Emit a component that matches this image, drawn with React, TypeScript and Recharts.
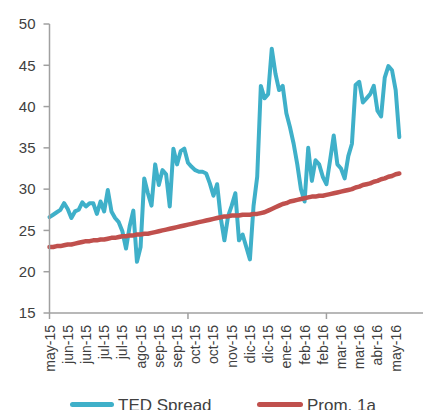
import React from 'react';
import { LineChart, Line, XAxis, YAxis, Legend } from 'recharts';

const TED_COLOR = '#3FB0C9';
const PROM_COLOR = '#C0504D';
const AXIS_COLOR = '#A0A0A0';
const TEXT_COLOR = '#404040';
const FONT = '"Liberation Sans", Arial, sans-serif';

// one label every 5 points
const monthLabels = [
  'may-15', 'jun-15', 'jun-15', 'jul-15', 'jul-15', 'ago-15', 'sep-15', 'sep-15', 'oct-15', 'oct-15',
  'nov-15', 'dic-15', 'dic-15', 'ene-16', 'feb-16', 'feb-16', 'mar-16', 'mar-16', 'abr-16', 'may-16',
];
const labelStep = 5;
const majorTicks = [0, 38, 76];
const yTicks = [15, 20, 25, 30, 35, 40, 45, 50];
const seriesNames = ['TED Spread', 'Prom. 1a'];

const tedSpread = [
  26.6, 26.9, 27.2, 27.5, 28.3, 27.6, 26.5, 27.3, 27.5, 28.4,
  27.9, 28.3, 28.3, 27.0, 28.5, 27.3, 29.9, 27.3, 26.5, 26.0,
  24.9, 22.8, 25.5, 27.4, 21.2, 23.0, 31.3, 29.5, 28.0, 33.0,
  30.5, 32.3, 31.8, 27.9, 34.9, 33.0, 34.6, 34.9, 33.2, 32.7,
  32.3, 32.1, 32.1, 31.9, 30.7, 29.2, 30.6, 26.5, 23.8, 26.7,
  28.0, 29.5, 23.8, 24.5, 23.0, 21.5, 28.0, 31.5, 42.5, 41.0,
  41.5, 47.0, 44.0, 42.0, 42.5, 39.2, 37.5, 35.5, 33.0, 30.0,
  28.5, 35.0, 31.0, 33.5, 33.0, 31.5, 30.6, 33.5, 36.5, 33.0,
  32.5, 31.3, 34.0, 35.5, 42.6, 43.0, 40.5, 41.0, 41.5, 42.5,
  39.5, 38.8, 43.5, 44.9, 44.4, 42.0, 36.3,
];

const prom1a = [
  23.0, 23.0, 23.1, 23.1, 23.2, 23.3, 23.3, 23.4, 23.5, 23.6,
  23.7, 23.7, 23.8, 23.8, 23.9, 23.9, 24.0, 24.1, 24.1, 24.2,
  24.3, 24.3, 24.4, 24.4, 24.5, 24.5, 24.6, 24.6, 24.7, 24.8,
  24.9, 25.0, 25.1, 25.2, 25.3, 25.4, 25.5, 25.6, 25.7, 25.8,
  25.9, 26.0, 26.1, 26.2, 26.3, 26.4, 26.5, 26.6, 26.7, 26.7,
  26.8, 26.8, 26.8, 26.9, 26.9, 26.9, 27.0, 27.0, 27.1, 27.2,
  27.4, 27.6, 27.8, 28.0, 28.2, 28.3, 28.5, 28.6, 28.7, 28.8,
  28.9, 29.0, 29.1, 29.1, 29.2, 29.2, 29.3, 29.4, 29.5, 29.6,
  29.7, 29.8, 29.9, 30.0, 30.2, 30.3, 30.5, 30.6, 30.7, 30.9,
  31.0, 31.2, 31.3, 31.5, 31.6, 31.8, 31.9,
];

const data = tedSpread.map((v, i) => ({ i, ted: v, prom: prom1a[i] }));
const xTicks = Array.from(new Set([...monthLabels.map((_, k) => k * labelStep), ...majorTicks])).sort((a, b) => a - b);

const DateTick = (props: any) => {
  const { x, y, payload } = props;
  const v = payload.value;
  const label = v % labelStep === 0 ? monthLabels[v / labelStep] : null;
  const ty = y + 12;
  return (
    <g>
      {majorTicks.includes(v) && <line x1={x} x2={x} y1={y} y2={y + 6} stroke={AXIS_COLOR} strokeWidth={1.5} />}
      {label && (
        <text x={x} y={ty} transform={`rotate(-90 ${x} ${ty})`} textAnchor="end" dominantBaseline="central"
          fontSize={14} fill={TEXT_COLOR} fontFamily={FONT}>
          {label}
        </text>
      )}
    </g>
  );
};

const legendPos = [{ left: 70, lineW: 44 }, { left: 257, lineW: 46 }];

const renderLegend = (props: any) => {
  const items = [...(props.payload || [])].sort(
    (a: any, b: any) => seriesNames.indexOf(a.value) - seriesNames.indexOf(b.value)
  );
  return (
    <div style={{ position: 'relative', height: 17, fontFamily: FONT, fontSize: 17, lineHeight: '17px', color: TEXT_COLOR }}>
      {items.map((entry: any, idx: number) => (
        <div key={entry.value} style={{ position: 'absolute', left: legendPos[idx].left, top: 0, whiteSpace: 'nowrap' }}>
          <span style={{ position: 'absolute', left: 0, top: 5, width: legendPos[idx].lineW, height: 5, borderRadius: 3, background: entry.color }} />
          <span style={{ position: 'absolute', left: legendPos[idx].lineW + 4, top: 0 }}>{entry.value}</span>
        </div>
      ))}
    </div>
  );
};

export default function App() {
  return (
    <div style={{ position: 'absolute', left: 0, top: 0, background: '#fff', fontFamily: FONT }}>
      <LineChart width={426} height={410} data={data} margin={{ top: 24, right: 3, left: 0, bottom: 37 }}>
        <XAxis
          dataKey="i"
          type="number"
          domain={[0, 102.5]}
          ticks={xTicks}
          interval={0}
          tick={<DateTick />}
          tickLine={false}
          tickSize={0}
          tickMargin={0}
          height={60}
          axisLine={{ stroke: AXIS_COLOR, strokeWidth: 1.5 }}
        />
        <YAxis
          type="number"
          domain={[15, 50]}
          ticks={yTicks}
          interval={0}
          width={49.5}
          tickSize={6}
          tickMargin={8}
          tick={{ fontSize: 15, fill: TEXT_COLOR, fontFamily: FONT }}
          tickLine={{ stroke: AXIS_COLOR, strokeWidth: 1.5 }}
          axisLine={{ stroke: AXIS_COLOR, strokeWidth: 1.5 }}
        />
        <Legend
          verticalAlign="middle"
          align="center"
          layout="horizontal"
          content={renderLegend}
          wrapperStyle={{ top: 397, left: 0, width: 426, height: 17 }}
        />
        <Line name="TED Spread" dataKey="ted" type="linear" stroke={TED_COLOR} strokeWidth={4}
          strokeLinejoin="round" strokeLinecap="round" dot={false} isAnimationActive={false} />
        <Line name="Prom. 1a" dataKey="prom" type="linear" stroke={PROM_COLOR} strokeWidth={4.5}
          strokeLinejoin="round" strokeLinecap="round" dot={false} isAnimationActive={false} />
      </LineChart>
    </div>
  );
}
